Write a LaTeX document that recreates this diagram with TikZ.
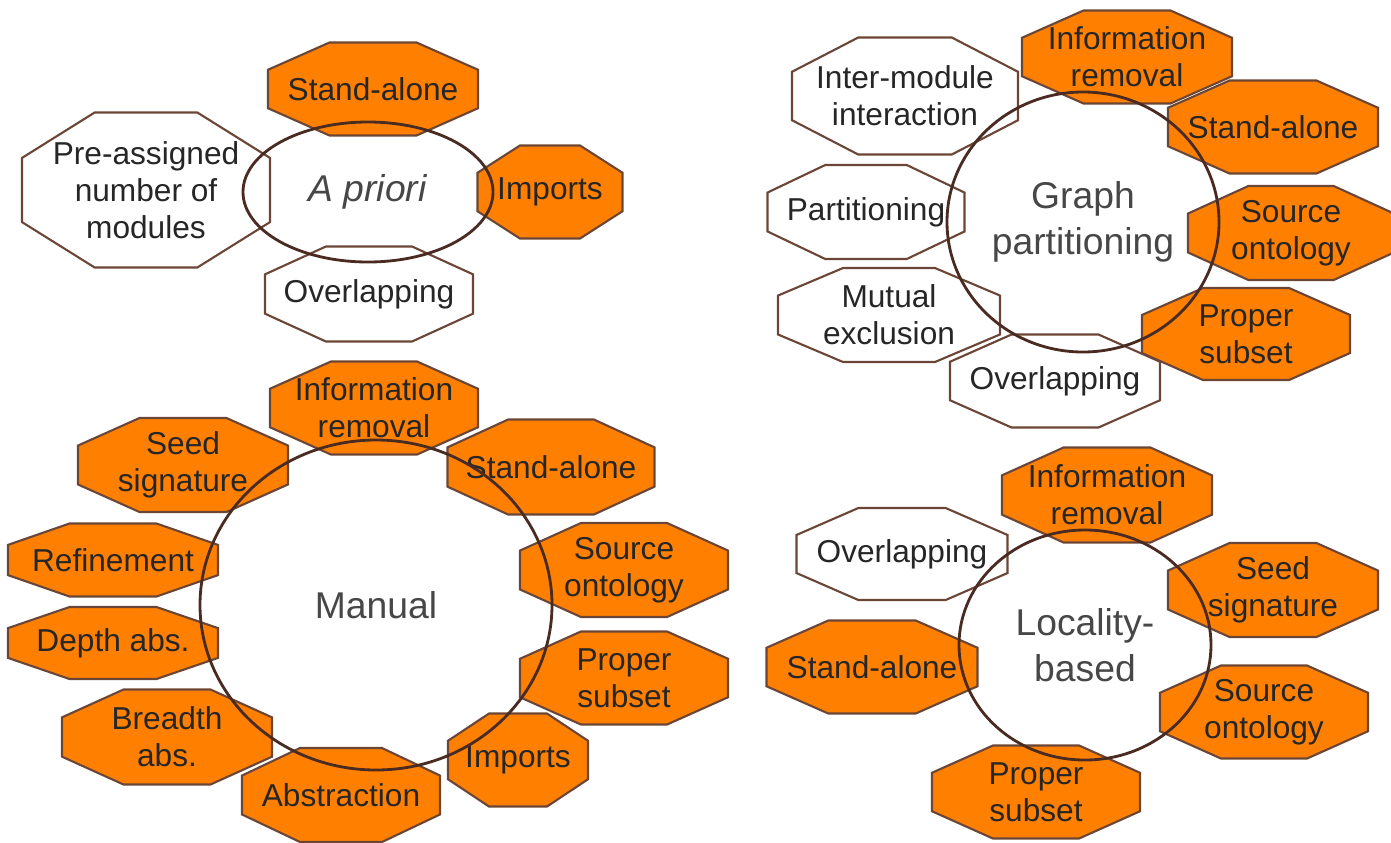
\documentclass[tikz,border=0pt]{standalone}
\usepackage{fontspec}
\setmainfont{Liberation Sans}
\usepackage{xcolor}
\usetikzlibrary{shapes.geometric}

\begin{document}
\begin{tikzpicture}[x=0.01cm,y=-0.01cm,
  octline/.style={draw=rim,line width=0.6pt,line join=miter},
  octtext/.style={inner sep=0pt,align=center,text=ink,font=\fontsize{9}{10.5}\selectfont},
  hub/.style={ellipse,draw=ring,line width=0.8pt,inner sep=0pt,align=center,
    text=ink!85,font=\fontsize{10.6}{13}\selectfont}]
\definecolor{pumpkin}{HTML}{FF8000}
\definecolor{rim}{HTML}{6B4636}
\definecolor{ring}{HTML}{4A2B22}
\definecolor{ink}{HTML}{262626}
\useasboundingbox (0,0) rectangle (1391,842);

% A priori
\foreach \nm/\xx/\yy/\ww/\hh/\crlr/\txt in {
  apStand/373/89/210/93/pumpkin/Stand-alone,
  apImports/550/192/145/93/pumpkin/Imports,
  apPre/146/190/248/155/white/{Pre-assigned\\number of\\modules},
  apOver/369/294/208/95/white/Overlapping}
  {\filldraw [octline,fill=\crlr] (\xx-0.5*\ww,\yy-0.207*\hh) -- (\xx-0.207*\ww,\yy-0.5*\hh)
     -- (\xx+0.207*\ww,\yy-0.5*\hh) -- (\xx+0.5*\ww,\yy-0.207*\hh) -- (\xx+0.5*\ww,\yy+0.207*\hh)
     -- (\xx+0.207*\ww,\yy+0.5*\hh) -- (\xx-0.207*\ww,\yy+0.5*\hh) -- (\xx-0.5*\ww,\yy+0.207*\hh) -- cycle;
   \node [octtext] (\nm) at (\xx,\yy) {\txt};}
\node [hub,minimum width=250*0.01cm,minimum height=140*0.01cm] (apriori) at (368,192) {\textit{A priori}};

% Graph partitioning
\foreach \nm/\xx/\yy/\ww/\hh/\crlr/\txt in {
  gpInfo/1127/57/210/93/pumpkin/{Information\\removal},
  gpStand/1273/127/210/93/pumpkin/Stand-alone,
  gpSource/1291/233/206/94/pumpkin/{Source\\ontology},
  gpProper/1246/334/208/92/pumpkin/{Proper\\subset},
  gpOver/1055/381/210/93/white/Overlapping,
  gpMutual/889/315/222/94/white/{Mutual\\exclusion},
  gpPart/866/212/197/94/white/Partitioning,
  gpInter/905/96/226/117/white/{Inter-module\\interaction}}
  {\filldraw [octline,fill=\crlr] (\xx-0.5*\ww,\yy-0.207*\hh) -- (\xx-0.207*\ww,\yy-0.5*\hh)
     -- (\xx+0.207*\ww,\yy-0.5*\hh) -- (\xx+0.5*\ww,\yy-0.207*\hh) -- (\xx+0.5*\ww,\yy+0.207*\hh)
     -- (\xx+0.207*\ww,\yy+0.5*\hh) -- (\xx-0.207*\ww,\yy+0.5*\hh) -- (\xx-0.5*\ww,\yy+0.207*\hh) -- cycle;
   \node [octtext] (\nm) at (\xx,\yy) {\txt};}
\node [hub,minimum width=272*0.01cm,minimum height=260*0.01cm] (graph) at (1083,222) {Graph\\partitioning};

% Manual
\foreach \nm/\xx/\yy/\ww/\hh/\crlr/\txt in {
  mnInfo/374/408/208/93/pumpkin/{Information\\removal},
  mnSeed/183/465/210/94/pumpkin/{Seed\\signature},
  mnStand/551/467/207/95/pumpkin/Stand-alone,
  mnSource/624/570/208/94/pumpkin/{Source\\ontology},
  mnProper/624/678/208/93/pumpkin/{Proper\\subset},
  mnImports/518/760/140/93/pumpkin/Imports,
  mnAbstr/341/795/198/94/pumpkin/Abstraction,
  mnBreadth/167/737/210/95/pumpkin/{Breadth\\abs.},
  mnDepth/113/643/210/72/pumpkin/Depth abs.,
  mnRefine/113/560/210/73/pumpkin/Refinement}
  {\filldraw [octline,fill=\crlr] (\xx-0.5*\ww,\yy-0.207*\hh) -- (\xx-0.207*\ww,\yy-0.5*\hh)
     -- (\xx+0.207*\ww,\yy-0.5*\hh) -- (\xx+0.5*\ww,\yy-0.207*\hh) -- (\xx+0.5*\ww,\yy+0.207*\hh)
     -- (\xx+0.207*\ww,\yy+0.5*\hh) -- (\xx-0.207*\ww,\yy+0.5*\hh) -- (\xx-0.5*\ww,\yy+0.207*\hh) -- cycle;
   \node [octtext] (\nm) at (\xx,\yy) {\txt};}
\node [hub,minimum width=352*0.01cm,minimum height=330*0.01cm] (manual) at (376,605) {Manual};

% Locality-based
\foreach \nm/\xx/\yy/\ww/\hh/\crlr/\txt in {
  lbInfo/1107/495/210/95/pumpkin/{Information\\removal},
  lbOver/902/554/211/92/white/Overlapping,
  lbSeed/1273/590/210/94/pumpkin/{Seed\\signature},
  lbStand/872/667/211/93/pumpkin/Stand-alone,
  lbSource/1264/712/208/93/pumpkin/{Source\\ontology},
  lbProper/1036/792/208/93/pumpkin/{Proper\\subset}}
  {\filldraw [octline,fill=\crlr] (\xx-0.5*\ww,\yy-0.207*\hh) -- (\xx-0.207*\ww,\yy-0.5*\hh)
     -- (\xx+0.207*\ww,\yy-0.5*\hh) -- (\xx+0.5*\ww,\yy-0.207*\hh) -- (\xx+0.5*\ww,\yy+0.207*\hh)
     -- (\xx+0.207*\ww,\yy+0.5*\hh) -- (\xx-0.207*\ww,\yy+0.5*\hh) -- (\xx-0.5*\ww,\yy+0.207*\hh) -- cycle;
   \node [octtext] (\nm) at (\xx,\yy) {\txt};}
\node [hub,minimum width=252*0.01cm,minimum height=230*0.01cm] (locality) at (1085,645) {Locality-\\based};
\end{tikzpicture}
\end{document}
